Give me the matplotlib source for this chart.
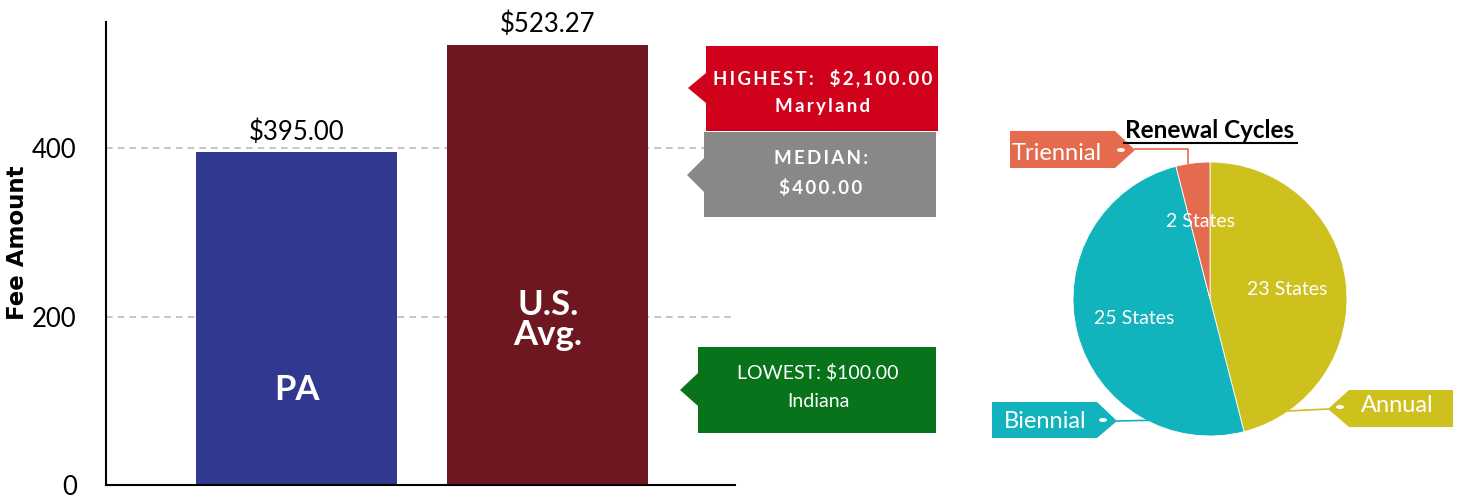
import matplotlib
matplotlib.use("Agg")
import matplotlib.pyplot as plt
from matplotlib.patches import Polygon, Ellipse
from matplotlib.lines import Line2D

plt.rcParams['font.family'] = ['Lato', 'DejaVu Sans']

# data
groups = ["PA", "U.S.\nAvg."]
fees = [395.00, 523.27]
fee_labels = ["$395.00", "$523.27"]
bar_colors = ["#30388F", "#6E1720"]
yticks = [0, 200, 400]

callouts = [
    ("HIGHEST:  $2,100.00\nMaryland", "#D0021B", "bold"),
    ("MEDIAN:\n$400.00", "#888888", "bold"),
    ("LOWEST: $100.00\nIndiana", "#08731A", "normal"),
]

cycles = ["Annual", "Biennial", "Triennial"]
state_counts = [23, 25, 2]
cycle_colors = ["#CEC11E", "#11B3BC", "#E56B4E"]

W, H = 1460, 496
fig = plt.figure(figsize=(W / 100, H / 100), dpi=100)


def px(x, y):
    return (x / W, 1 - y / H)


def poly(points, color):
    fig.add_artist(Polygon([px(x, y) for x, y in points], closed=True,
                           facecolor=color, edgecolor="none",
                           transform=fig.transFigure))


def spaced(s):
    # rough letter spacing for the bold callouts
    return "\n".join("\u200a\u200a".join(line) for line in s.split("\n"))


# ---- bar chart ----
ax = fig.add_axes([106 / W, 1 - 485 / H, 629 / W, 463 / H])
xpos = range(len(groups))
ax.bar(xpos, fees, width=0.8, color=bar_colors, zorder=2)
ax.set_xlim(-0.76, 1.745)
ax.set_ylim(0, 550)
ax.set_yticks(yticks)
ax.set_yticklabels([str(t) for t in yticks], fontsize=18.5)
ax.tick_params(axis="y", length=0, pad=21)
ax.set_xticks([])
for sp in ["top", "right"]:
    ax.spines[sp].set_visible(False)
ax.spines["left"].set_linewidth(1.5)
ax.spines["bottom"].set_linewidth(1.5)
for t in yticks[1:]:
    ax.axhline(t, color="#BBBBBB", lw=1.2, ls=(0, (4, 3)), zorder=1)

fig.text(*px(18, 243), "Fee Amount", rotation=90, ha="center", va="center",
         fontsize=16.5, fontweight="bold", family=["DejaVu Sans"])

for x, v, lab in zip(xpos, fees, fee_labels):
    ax.text(x, v + 9, lab, ha="center", va="bottom", fontsize=18.5)
ax.text(0, 113, groups[0], ha="center", va="center", color="white",
        fontsize=25, fontweight="bold")
ax.text(1, 196, groups[1], ha="center", va="center", color="white",
        fontsize=25, fontweight="bold", linespacing=0.95)

# ---- callout boxes ----
# box left, right, top, bottom, arrow tip x, y, notch top, bottom, text centre y
boxes = [
    (706, 938, 46, 131, 688, 88, 73, 103, 92),
    (704, 936, 132, 217, 687, 175, 158, 192, 173),
    (698, 936, 347, 433, 680, 390, 373, 406, 387),
]
for (x0, x1, y0, y1, ax_, ay, n0, n1, ty), (txt, col, wt) in zip(boxes, callouts):
    poly([(x0, y0), (x1, y0), (x1, y1), (x0, y1), (x0, n1), (ax_, ay), (x0, n0)], col)
    if wt == "bold":
        txt = spaced(txt)
    fig.text(*px((x0 + x1) / 2 + 1, ty), txt, ha="center",
             va="center", color="white", fontsize=13.5 if wt == "bold" else 14,
             fontweight=wt, linespacing=1.8)

# ---- pie ----
pax = fig.add_axes([(1210 - 150) / W, 1 - (299 + 150) / H, 300 / W, 300 / H])
pax.pie(state_counts, colors=cycle_colors, startangle=90, counterclock=False,
        radius=1, pctdistance=0.57,
        autopct=lambda p: "%d States" % round(p * sum(state_counts) / 100),
        textprops=dict(color="white", fontsize=14),
        wedgeprops=dict(linewidth=0.6, edgecolor="white"))
pax.set_xlim(-1.095, 1.095)
pax.set_ylim(-1.095, 1.095)
pax.set_aspect("equal")
pax.axis("off")

fig.text(*px(1210, 131), "Renewal Cycles", ha="center", va="center",
         fontsize=17.5, fontweight="bold")
fig.add_artist(Line2D([1124 / W, 1297 / W], [1 - 143 / H, 1 - 143 / H],
                      color="black", lw=1.5, transform=fig.transFigure))

# tags
tri, bi, an = cycle_colors[2], cycle_colors[1], cycle_colors[0]
poly([(1010, 131), (1115, 131), (1135, 150), (1115, 168), (1010, 168)], tri)
fig.add_artist(Line2D([1135 / W, 1188 / W, 1188 / W],
                      [1 - 149 / H, 1 - 149 / H, 1 - 163 / H],
                      color=tri, lw=1.2, transform=fig.transFigure))
poly([(992, 402), (1097, 402), (1117, 421), (1097, 438), (992, 438)], bi)
fig.add_artist(Line2D([1117 / W, 1165 / W], [1 - 421 / H, 1 - 420 / H],
                      color=bi, lw=1.2, transform=fig.transFigure))
poly([(1349, 390), (1453, 390), (1453, 427), (1349, 427), (1328, 409)], an)
fig.add_artist(Line2D([1328 / W, 1288 / W], [1 - 409 / H, 1 - 411 / H],
                      color=an, lw=1.2, transform=fig.transFigure))
for ex, ey in [(1121, 150), (1103, 420), (1340, 407)]:
    fig.add_artist(Ellipse(px(ex, ey), 8 / W, 4 / H, facecolor="white",
                           edgecolor="none", transform=fig.transFigure))

fig.text(*px(1057, 153), "Triennial", ha="center", va="center",
         color="white", fontsize=17)
fig.text(*px(1045, 421), "Biennial", ha="center", va="center",
         color="white", fontsize=17)
fig.text(*px(1397, 405), "Annual", ha="center", va="center",
         color="white", fontsize=17)

fig.savefig("out.png", dpi=100)
